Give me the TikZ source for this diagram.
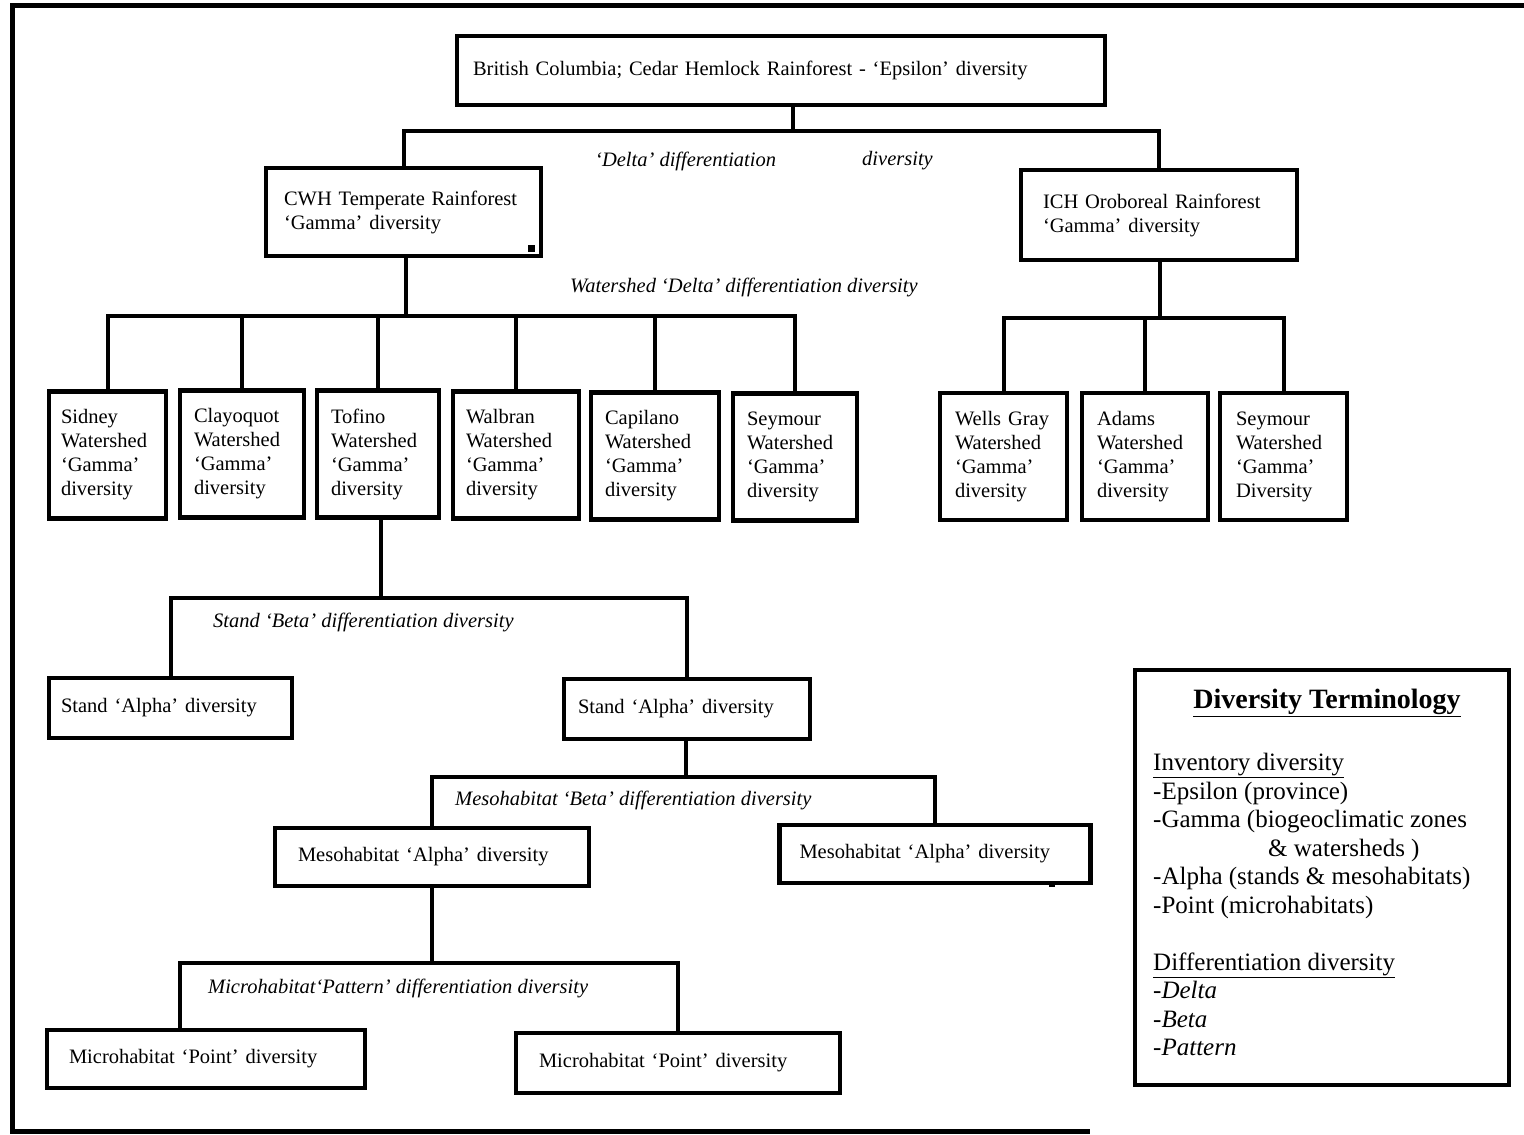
\documentclass[tikz,border=0pt]{standalone}
\usepackage{fontspec}
\setmainfont{Liberation Serif}
\begin{document}
\begin{tikzpicture}[x=1pt, y=-1pt,
    every node/.style={font=\fontsize{20.5}{24}\selectfont},
    box/.style={draw, line width=4.5pt, align=left, inner ysep=3pt},
    wshed/.style={box, minimum height=127pt, inner xsep=14pt, text width=96pt},
    lab/.style={anchor=west, inner sep=0pt, font=\fontsize{20.5}{24}\selectfont\itshape},
    link/.style={line width=4pt}]
    \useasboundingbox (0,0) rectangle (1524,1135);
    % outer frame
    \draw[line width=5pt] (1524,5) -- (12,5) -- (12,1131) -- (1090,1131);

    %nodes
    \node[box, inner xsep=16pt, text width=616pt, minimum height=69pt] (top) at (781,70.5) {British Columbia; Cedar Hemlock Rainforest - ‘Epsilon’ diversity};
    \node[box, inner xsep=18pt, text width=239pt, minimum height=88pt] (cwh) at (403.5,212) {CWH Temperate Rainforest\\‘Gamma’ diversity};
    \node[box, inner xsep=22pt, text width=232pt, minimum height=90pt] (ich) at (1159,215) {ICH Oroboreal Rainforest\\‘Gamma’ diversity};

    \node[wshed, inner xsep=12pt, text width=93pt] (sidney) at (107.5,455) {Sidney\\Watershed\\‘Gamma’\\diversity};
    \node[wshed] (clayoquot) at (242,454) {Clayoquot\\Watershed\\‘Gamma’\\diversity};
    \node[wshed, text width=94pt] (tofino) at (378,454) {Tofino\\Watershed\\‘Gamma’\\diversity};
    \node[wshed, inner xsep=13pt, text width=100pt] (walbran) at (516,455) {Walbran\\Watershed\\‘Gamma’\\diversity};
    \node[wshed, text width=100pt] (capilano) at (655,456) {Capilano\\Watershed\\‘Gamma’\\diversity};
    \node[wshed] (seymour) at (795,457) {Seymour\\Watershed\\‘Gamma’\\diversity};
    \node[wshed, inner xsep=15pt, text width=97pt] (wells) at (1003.5,456.5) {Wells Gray\\Watershed\\‘Gamma’\\diversity};
    \node[wshed, inner xsep=15pt] (adams) at (1145,456.5) {Adams\\Watershed\\‘Gamma’\\diversity};
    \node[wshed, inner xsep=16pt, text width=95pt] (seymourb) at (1283.5,456.5) {Seymour\\Watershed\\‘Gamma’\\Diversity};

    \node[box, inner xsep=12pt, text width=219pt, minimum height=60pt] (standl) at (170.5,708) {Stand ‘Alpha’ diversity};
    \node[box, inner xsep=14pt, text width=218pt, minimum height=60pt] (standr) at (687,709) {Stand ‘Alpha’ diversity};
    \node[box, inner xsep=23pt, text width=268pt, minimum height=58pt] (mesol) at (432,857) {Mesohabitat ‘Alpha’ diversity};
    \node[box, inner xsep=20pt, text width=271pt, minimum height=58pt] (mesor) at (935,854) {Mesohabitat ‘Alpha’ diversity};
    \node[box, inner xsep=22pt, text width=274pt, minimum height=58pt] (microl) at (206,1059) {Microhabitat ‘Point’ diversity};
    \node[box, inner xsep=23pt, text width=278pt, minimum height=60pt] (micror) at (678,1063) {Microhabitat ‘Point’ diversity};

    % labels
    \node[lab] (delta) at (595,161) {‘Delta’ differentiation};
    \node[lab] (deltadiv) at (862,161) {diversity};
    \node[lab] (wsdelta) at (570,287) {Watershed ‘Delta’ differentiation diversity};
    \node[lab] (standbeta) at (213,622) {Stand ‘Beta’ differentiation diversity};
    \node[lab] (mesobeta) at (455,800) {Mesohabitat ‘Beta’ differentiation diversity};
    \node[lab] (micropat) at (208,988) {Microhabitat‘Pattern’ differentiation diversity};

    % legend
    \node[draw, line width=4.5pt, minimum width=374pt, minimum height=415pt] (legend) at (1322,877.5) {};
    \node[font=\fontsize{28}{32}\selectfont\bfseries] (legtitle) at (1327,703) {\underline{Diversity Terminology}};
    \node[anchor=north west, align=left, inner sep=0pt, font=\fontsize{25}{28.5}\selectfont] (legbody) at (1153,753)
        {\underline{Inventory diversity}\\-Epsilon (province)\\-Gamma (biogeoclimatic zones\\\hspace*{115pt}\& watersheds )\\-Alpha (stands \& mesohabitats)\\-Point (microhabitats)\\[28.5pt]
         \underline{Differentiation diversity}\\\textit{-Delta}\\\textit{-Beta}\\\textit{-Pattern}};

    % connectors
    \coordinate (j0) at (793,131);
    \draw[link] (top.south -| j0) -- (j0);
    \draw[link] (cwh.north) |- (j0) -| (ich.north);

    \coordinate (j1) at (406,316);
    \draw[link] (cwh.south -| j1) -- (j1);
    \draw[link] (sidney.north) |- (j1) -| (seymour.north);
    \draw[link] (clayoquot.north) -- (clayoquot.north |- j1);
    \draw[link] (tofino.north) -- (tofino.north |- j1);
    \draw[link] (walbran.north) -- (walbran.north |- j1);
    \draw[link] (capilano.north) -- (capilano.north |- j1);

    \coordinate (j2) at (1160,318);
    \draw[link] (ich.south -| j2) -- (j2);
    \draw[link] (wells.north) |- (j2) -| (seymourb.north);
    \draw[link] (adams.north) -- (adams.north |- j2);

    \coordinate (j3) at (381,598);
    \draw[link] (tofino.south -| j3) -- (j3);
    \draw[link] (standl.north) |- (j3) -| (standr.north);

    \coordinate (j4) at (686,777);
    \draw[link] (standr.south -| j4) -- (j4);
    \draw[link] (mesol.north) |- (j4) -| (mesor.north);

    \coordinate (j5) at (432,963);
    \draw[link] (mesol.south) -- (j5);
    \draw[link] ([xshift=-26pt]microl.north) |- (j5) -| (micror.north);

    % specks
    \fill (527.5,244.5) rectangle (534.5,251.5);
    \fill (1049,881) rectangle (1055,887);
\end{tikzpicture}
\end{document}
